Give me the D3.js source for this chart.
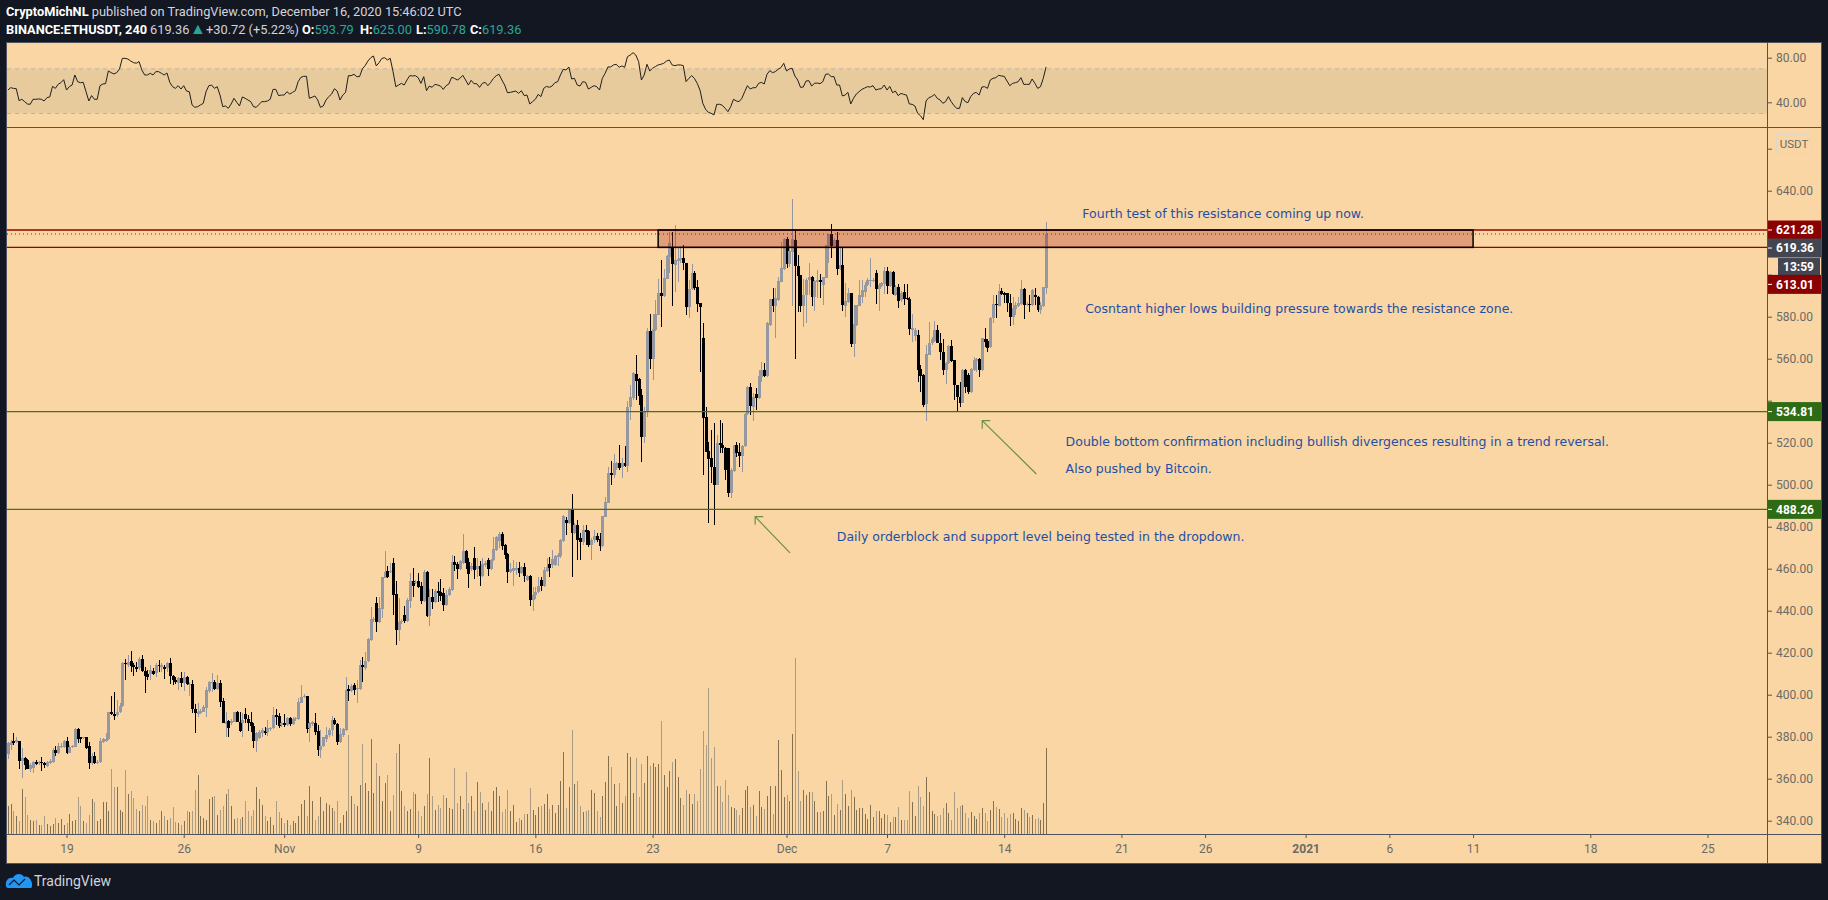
<!DOCTYPE html>
<html>
<head>
<meta charset="utf-8">
<title>ETHUSDT 240</title>
<script src="https://cdnjs.cloudflare.com/ajax/libs/d3/7.8.5/d3.min.js"></script>
<style>
html, body { margin: 0; padding: 0; background: #131722; overflow: hidden; }
svg { display: block; }
text { font-family: Roboto, sans-serif; }
</style>
</head>
<body>
<svg id="chart" width="1828" height="900"></svg>
<script>
"use strict";

// 4h candles, open high low close, oldest first
var ohlc = [
[371.7,377.6,369.2,376.8],[376,378.4,373.7,377.6],[378,381.6,376,376.8],[377.5,379.7,376.8,378.4],[378,378,364.5,368.4],[368.4,374.4,360.5,369.7],[369.7,370.5,364.1,366.5],[368.9,369.2,364.5,364.8],[364.8,367.3,363.3,366.5],[364.9,368.4,362.9,368],
[368,368.9,366.5,367],[367.3,368.4,366.5,367.8],[367.8,370.5,363.7,367.3],[367.6,368.1,364.9,366.4],[366.2,368.6,365.7,368.1],[367.3,369.2,366.8,368.6],[368.1,374.4,367.6,373.6],[373.6,375.6,370.8,372.1],[372.1,376.8,371.7,375.6],[375.2,376.8,374.4,375.7],
[375.2,378.4,374.4,378],[378,380,371.7,372.1],[372.4,376,372.1,375.2],[374.9,376,374.4,375.6],[375.2,384,374.9,383.7],[383.7,384.3,376.8,378.7],[379.7,380,376.8,379],[379.2,380,378.7,379.7],[379.8,380,374,374.4],[375.6,377.6,364.8,367.3],
[367.3,372.1,366.5,370.8],[370.8,372.9,367,367.3],[367.6,368.9,367,368.1],[368.1,379.2,367.3,378],[377.5,379.5,376.8,378.7],[378.1,381.6,377.5,379],[378.7,391.9,378.4,391.6],[391.6,399.4,390.3,390.6],[390.8,401.3,388,389.8],[390.2,397.5,389.5,391.9],
[391.6,396.2,391.1,394.8],[394.6,415.7,394.3,415.2],[415.2,416.8,407,414.4],[414.1,418.9,413.3,415.7],[415.9,420.8,411,413.6],[414.1,414.9,409,413],[413.3,415.7,411,412.1],[412.5,418.1,411.7,416.8],[417,418.9,411,411.4],[411.4,413,400.9,408.9],
[409.8,411.7,407,408.6],[409.7,414.1,407,411.7],[411.4,412.5,409.4,409.8],[410.2,414.9,408.2,414.1],[414.1,416.5,411,413.6],[413.3,414.9,411,414.1],[413.3,414.1,407.5,412.1],[412.5,415.7,411,415.2],[415.2,417.3,404.9,409],[409,409.4,404.6,407],
[407,408.6,405.1,406.2],[405.7,408.6,402.2,407.8],[407.8,411,403.8,405.7],[405.4,411,401.9,408.6],[408.6,409,404.6,405.1],[404.6,406.2,399.4,405.1],[405.1,407,391.1,393.3],[393.3,395.6,381.6,391.1],[390.6,396.2,389.5,391.9],[391.4,393,390.8,392.4],
[392,395,391.6,394.3],[393.8,403.8,389.5,402.2],[401.9,406.5,400.6,406.2],[405.4,410.2,401.4,406.2],[406.2,407,402.2,402.7],[402.7,409.4,402.2,405.4],[405.7,407,394.3,396.7],[397,398.3,386.4,386.7],[386,391.6,380,387.1],[387.5,388,380,384.3],
[386.3,388.2,385.6,387.6],[387.1,391.9,386.8,391.6],[392,392.4,386.8,387.1],[387.1,391.9,382.4,382.7],[386.3,391.1,380,387.9],[390.8,393.5,386.3,388.3],[388.4,390.3,382.9,386.7],[387.1,391.7,382.4,385.1],[385.1,386.4,374.8,378.1],[378.1,382.4,372.9,381.9],
[379.2,383.2,378.7,382.4],[381.6,384,380,383.2],[382.9,384.4,380.8,381.6],[382.4,387.9,380.3,384],[383.5,384.8,382.9,384],[384,394.3,383.5,390.3],[390.3,393,385.6,389.5],[389.8,391.1,384,385.1],[385.6,387.1,384.8,386.4],[386.4,390.8,384.4,385.6],
[385.6,389.2,385.1,388.9],[388.9,389.5,385.1,385.9],[386,389.2,385.6,388.6],[388.2,389.5,387.6,388.9],[388.6,398.2,388,396.3],[396.2,404.6,395.9,398.9],[398.7,400.3,398.3,399.4],[399.2,399.4,381.6,383.8],[384,387.1,377.6,386.7],[386,387.6,385.1,386.8],
[386.4,391.1,380.8,382.2],[382.5,385.6,370.8,373.6],[373.6,383.2,370,375.7],[375.6,380,374.9,379.7],[378.9,384.8,377.6,380.8],[380.8,384,380,383.2],[383.2,389.8,380.3,387.9],[388,388.7,385.6,385.9],[386,386.4,376,377.6],[377.3,384,376.8,381.3],
[380.8,384,380,383.5],[383.2,408.6,382.9,402.2],[402.5,404.6,397.1,401.9],[401.9,405.1,401.4,404.3],[404.6,405.4,399.8,402.2],[402.5,407,395.9,403],[402.7,416.5,402.2,414.1],[414.1,418.1,406.2,413],[412.5,420.2,411.7,416.2],[416.2,426.8,415.7,426.3],
[426,441.6,425.7,436],[435.5,437.1,434.7,436],[443.5,446.7,430,434.7],[434.7,446.3,434.3,441.1],[440.8,456.2,436.7,455.9],[455.7,468.4,455.4,458.6],[458.9,461.3,455.4,456.2],[458.6,462.5,457.8,459],[462.5,464.9,437.9,447.4],[447.8,454.1,423.6,430.8],
[430.8,445.9,425.5,434.7],[434.4,435.9,433.6,435.1],[437.9,442.2,434,435.1],[435.1,445.9,434.8,445.1],[444.8,457.8,441.1,454.1],[454.1,460.1,446.7,451.7],[453.3,454.6,452.7,453.8],[454.1,458,450.9,451.4],[451.7,453.8,443.2,444.6],[444.6,459.4,444.3,458.6],
[458.6,459,436.8,437.4],[437.4,450.1,432.8,446.7],[446.5,450.1,440.6,444.3],[444.3,450.1,443.8,449.5],[449.4,453.8,444.3,448.2],[448.9,455.1,444.8,447],[448.6,450.6,439.8,442.7],[442.7,449.8,442.2,447.4],[447.4,451.1,447,450.1],[449.8,466.5,449.5,463.2],
[463.2,466,459,461.7],[462.2,463.3,455.1,460],[460,464.1,459.4,463.6],[462.5,476.5,462.2,468.6],[468.6,468.9,459.8,462.5],[463.3,464.9,450.9,457.4],[459.7,462.5,459,461.3],[465.1,470.1,454.9,459.4],[459.7,464.9,456.2,461.3],[461.3,463.8,451.7,456.5],
[456.5,464.9,456.2,462.2],[461.6,463.6,460.9,462.8],[464.1,464.9,456.5,460],[460,464.4,459.4,464.1],[464.1,474.9,463.6,469.2],[468.9,475.5,468.6,475.2],[473.3,477.6,469.7,476.5],[476.3,477.6,468.9,470.9],[471.2,471.6,464.7,466.5],[467,467.6,453,458.2],
[458.2,462.5,457.8,459.8],[459,464.1,451.7,460.1],[459.4,463.3,457,460.5],[460.5,463.3,455.9,457.8],[458.1,461.3,457.4,460.6],[460.6,462.5,453.9,456.5],[454.6,457,454.1,456.5],[456.5,457,442.2,445.1],[445.1,451.4,440,447.4],[447.4,451.4,445.4,449],
[449,456.2,448.2,451.7],[454.6,456.2,449.4,451.7],[451.7,460.6,451.4,459.4],[459,464.9,458.6,460.6],[462.2,465.4,456.2,460.3],[461.6,468.9,460.1,464.4],[461.7,466.5,461.3,466],[465.4,467.3,461.3,466.5],[466,474,464.9,473.6],[473.3,485.5,472.8,485.1],
[483.2,484.7,476,481.6],[481.6,488.2,481.2,487.9],[487.9,495.5,456.2,477.1],[476.9,481.6,476.4,480.8],[480.8,483.2,464.2,473.7],[474.5,476.9,464.2,472.9],[472.9,480.8,471.3,478.5],[478.5,480.8,471.3,477.7],[478.1,478.5,470.5,471.3],[471.3,474.5,464.2,473.7],
[473.7,478.5,472.1,475.6],[475.6,476.9,472.9,473.7],[474,476.9,468.6,470.8],[470.8,485.3,470.5,485.1],[484.8,494.3,484.5,492],[491.5,508.6,491.2,505.4],[505.8,511.3,499.9,504.6],[504.6,514.6,503.1,510.2],[507.8,511,507,510.2],[510.2,518.9,507,507.8],
[508.6,512.6,503.1,510.2],[510.2,518.4,508.6,508.9],[508.9,540,506.2,537.2],[536.9,547.5,530.8,541.6],[541.1,553.8,540.4,553],[552.7,561.8,540.4,549.6],[550.2,550.7,538,542.3],[542.7,545.4,511,522.9],[522.9,537.2,519.7,534.8],[534.5,574.8,532.4,573.2],
[573.2,581.1,555.1,559.9],[559.9,581.1,549.9,574.2],[573.7,588,573.4,581.1],[580.8,597.8,580.8,591.1],[591.1,607,575.3,589.9],[589.9,602.6,589.6,598.3],[598,609.4,598,608.9],[608.6,620.5,600.7,614.9],[612.6,620.5,585.1,605.1],[604.6,623.7,591.9,607],
[606.5,612.6,596.7,607.5],[607,612.6,605.4,607.8],[607.8,614.2,602.3,605.4],[605.4,605.4,580.8,584.5],[584.8,597.5,579.4,593],[593,605.1,592.7,601],[601,601.9,592.7,593.8],[594,597.5,582.4,586],[586.4,586.4,553.8,584.8],[569.7,577.2,504.6,532],
[532.1,537.2,515.7,515.8],[516,520.5,482,512.3],[512.6,526.1,500.7,508.6],[508.3,529.3,480.8,499.9],[499.9,523.7,499.9,519.7],[519.7,530.8,515,518.9],[518.9,529.3,515,517.3],[517.7,518.1,502.3,507],[517.3,517.3,494.3,496.2],[496.2,507.8,493.5,507],
[506.6,518.9,506.2,518.9],[518.9,520.5,513.4,515],[515.8,519.7,508.6,513.7],[513.7,518.9,506.2,518.6],[518.5,534,518.1,533.7],[533.5,547,533.2,546.7],[546.4,548.3,533.2,537.5],[537.2,543.5,530.5,541.9],[543.2,545.9,535.6,541.1],[541.1,554.6,540.8,551.8],
[551.5,558.6,549.1,554.6],[554.6,557.8,551.5,551.8],[551.8,577.7,551.5,577.2],[576.1,588.3,575.8,588.3],[588.3,593.5,582.4,585.1],[585.1,593.5,570,588.8],[588,599.1,587.6,597],[596.7,615.7,596.7,603],[602.6,617.3,602.3,616.9],[616.9,618.1,603.2,605.1],
[605.1,614.2,603.8,611.5],[611,636.1,585.1,616.9],[616.5,621.3,559.9,604.2],[604.2,609.4,582.4,599.4],[599.9,599.9,582.4,585.1],[585.1,597.8,575.3,590.4],[590.4,598.3,576.9,597.5],[597.5,605.4,590.4,598.8],[599.1,599.4,585.1,589.6],[589.6,597.5,582.9,597],
[596.7,602.3,588.8,597.5],[597.5,600.2,589.1,596.7],[595.1,599.1,585.6,598.8],[598.6,614.2,598.3,614.2],[613.8,619.4,605.4,619.4],[619.4,624.2,607.8,613.8],[613.8,617.3,613.4,616.5],[616.5,620.2,599.9,602.7],[602.7,612.6,602.3,604.6],[604.6,612.6,582.9,585.6],
[585.1,595.9,580,587.7],[587.2,593.5,586.4,591.1],[591.1,591.1,565.8,567],[567,585.6,561,576.5],[576.1,585.6,575.8,585.6],[585.1,597.5,585.1,590.4],[589.6,597.5,586.4,592.7],[592,596.7,589.6,595.1],[595.1,598.3,594.6,597.5],[597.2,607.8,594.3,597.5],
[597.2,598.3,596.5,597.5],[600.7,602.3,586.1,593.4],[593.4,595.9,582.9,595.1],[594.6,596.7,594,595.9],[595.6,603.8,590.8,601.8],[601.9,603.5,590.8,594.6],[594.6,601.9,594,601.1],[601.1,601.8,590.4,590.7],[590.4,595.1,589.9,594.3],[594.3,595.6,584,587.7],
[588,592.2,587.2,591.5],[591.8,595.6,585.6,588.3],[589.1,595.6,588,588.3],[588.3,589.2,571.3,574],[573.7,581.1,568.1,574.5],[571,574.5,568.5,573.7],[571.3,573.7,549.1,554.6],[555,557,544.3,552],[552.3,552.6,537.2,538],[538.5,566.5,530.5,562.1],
[561.8,577.3,561.8,567.7],[567.3,570.5,566.5,569.4],[568.6,578.1,568.1,573.7],[573.7,576.1,567.3,567.7],[567.7,572.1,559.4,563.4],[563.4,569.2,552.3,554.6],[554.6,558.6,548,558.1],[557.8,566.5,557.3,566.1],[566.1,568.9,558.6,559.1],[559.4,559.4,540.4,547.5],
[547.5,547.5,535.3,541.6],[541.9,549.1,537.2,539.1],[539.1,555,538.8,554.6],[554.6,555,543.5,546.4],[552.3,553,543,544.3],[544.3,555.4,543.9,555],[554.6,561,554.2,559.4],[559.1,560.5,553.9,560],[560,560.2,551.5,554.6],[554.6,569.7,554.3,569.7],
[569.2,574.5,565.8,568.1],[568.6,569.2,563.4,565.3],[565.8,580,565.3,579.6],[579.2,590.4,576.9,586.1],[586.1,590.4,579.2,585.6],[585.3,595.6,585.1,592.3],[592.3,593.5,590.4,590.8],[591.5,591.9,586.4,590.4],[591.1,591.5,582.4,586.7],[586.7,590.8,575.8,580],
[579.7,589.6,576.1,584],[583.7,587.2,580.8,585.6],[585.1,589.6,584.5,586.4],[586.1,597.5,585.6,593.2],[593.2,593.8,578.8,585.6],[585.7,587.2,585.1,586.1],[586.1,590.4,582.4,585.6],[585.6,593,585.1,592.7],[590.3,593.5,585.6,589.2],[589.6,589.9,582.4,583.2],
[583.2,587.2,581.1,585.6],[585.1,594.3,584.8,594.3],[593.79,625,590.78,619.36]
];

// volume per candle, in units of the volume pane
var volumes = [
28,30.3,23.3,17.7,12.7,45.3,36.7,19.3,14.3,12.7,13.7,9.3,9.3,17.7,10.3,7.7,10.3,16,11,15.3,9.3,11,20.3,12.7,14.3,36.7,27.7,13.3,11,19.3,35.3,31.7,12.7,15.3,31.7,31.7,22.7,65.3,46.7,47,24.3,21.7,64.3,40.3,42.7,36,25.3,23.3,29.3,27.7,38.3,14.3,12.7,11,14.3,23.3,17.7,14.3,16,27,12,11,9.3,12.7,22.7,22,22.7,44.3,59.3,18.3,16,14.3,35.3,37,37.7,19.3,24.3,28.3,40.3,45.3,28.3,15.3,16,15.3,17,33.3,23.3,17.7,24.3,46.7,35.3,29.3,17.7,12.7,17,9.3,32.7,21.7,16,11,14.3,9.3,12.7,11,17.7,30.3,34.3,18.3,48.3,33.3,14.3,17.7,36.7,23.3,31,29.3,26,23.3,33.3,11,19.3,23.3,99.3,37.7,30.3,27.7,49.3,90.3,51,42.7,95,41,71,57.7,33.3,51,59.3,22.7,39.3,81,90.3,43.3,27.7,22.7,25,42,40,22.7,17.7,28.3,40.3,76,37.7,24.3,29.3,26,39.3,36,26,25.3,66,31,37.7,25.3,62.3,31,37.7,23.3,52,41.7,31,24.3,31.7,22.7,43.3,47,37.7,
22.3,25.3,44.3,23.3,29.3,12.3,16.3,14.3,20.3,20.3,46.3,24.3,19.3,27.3,28.3,30.3,40.3,25.3,29.3,21.3,29.3,53.3,82.3,26.3,47.3,104.3,50.3,53.3,28.3,22.3,23.3,24.3,44.3,41.3,23.3,17.3,38.3,52.3,78.3,67.3,50.3,28.3,51.3,31.3,38.3,81.3,77.3,41.3,76.3,37.3,70.3,51.3,78.3,68.3,71.3,67.3,70.3,113.3,59.3,47.3,63.3,72.3,75.3,57.3,36.3,29.3,44.3,40.3,30.3,40.3,33.3,65.3,103.3,89.3,146.3,76.3,87.3,48.3,48.3,32.3,54.3,39.3,27.3,26.3,24.3,19.3,26.3,44.3,48.3,27.3,29.3,18.3,43.3,27.3,25.3,38.3,48.3,20.3,48.3,94.3,64.3,37.3,39.3,33.3,100.3,176.3,63.3,33.3,44.3,39.3,42.3,42.3,33.3,22.3,22.3,23.3,53.3,38.3,40.3,19.3,30.3,24.3,54.3,40.3,28.3,44.3,37.3,24.3,26.3,26.3,20.3,15.3,29.3,17.3,23.3,23.3,16.3,20.3,19.3,12.3,17.3,17.3,27.3,14.3,14.3,14.3,43.3,32.3,18.3,48.3,37.3,28.3,57.3,42.3,23.3,20.3,18.3,19.3,26.3,31.3,21.3,14.3,42.3,26.3,28.3,29.3,21.3,16.3,22.3,18.3,15.3,21.3,26.3,21.3,13.3,24.3,33.3,27.3,25.3,17.3,21.3,16.3,20.3,21.3,15.3,13.3,26.3,24.3,21.3,17.3,19.3,15.3,16.3,14.3,31.3,86.3
];

var rsi = [
51,53.1,52.5,52.2,41.5,42.7,40.6,38.5,38.2,42.7,42.7,43,42.7,41.2,44.2,44.8,54.3,52.5,56.1,57.6,60.3,51,54,55.5,64.5,58.5,57.6,57.9,49.5,41.2,46,42.7,42.7,54.9,56.4,56.7,68.1,66.6,65.4,66.6,69.9,79.4,79.4,78.8,77,75.6,75,76.5,69,64.5,64.5,66,64.5,67.5,67.5,66,64.5,66.3,57.9,54,52.5,54.9,51.9,54.9,50.1,49.5,37.6,35.5,36.1,37.6,39.1,49.5,54.9,55.5,52.5,54,46.5,36.1,36.7,34.6,38.5,43.6,40,36.7,44.8,43.6,42.1,40.6,36.1,35.5,38.2,40.6,40.6,41.2,42.7,51.6,51.6,46,46.5,46.5,49.5,47.4,48.9,50.4,58.5,62.4,63.3,63.3,43.6,44.5,45.7,42.1,35.5,36.7,42.1,45.1,47.4,52.2,50.1,42.1,46.5,48.9,63.9,63.9,65.1,63,63,69.9,
72.9,77,80,81.5,72.6,75.6,79.4,80,78,79.4,67.5,54,55.5,57,55.5,60,63.9,63.6,63.9,62.1,57,63,50.4,54.6,53.4,56.1,55.5,54.6,51.6,54.9,56.4,62.4,61.5,60,61.5,64.2,60,55.5,59.7,56.7,56.7,53.4,57,57.9,54.9,57.9,61.5,63.9,65.1,60,55.5,48.6,48.9,49.5,50.1,48,50.4,46,46.5,38.5,40.6,42.7,47.1,45.1,52.5,54.3,53.4,54.6,57.6,58.5,64.5,69.6,69,71.7,60.9,61.5,55.5,54.6,58.5,57.9,51.9,53.4,54.9,54,51,61.5,66,71.7,71.7,73.5,74.1,71.4,72.6,71.4,80.9,82.4,84.5,82.4,76.5,60,64.5,74.1,68.1,70.5,72,73.5,74.1,75,77,77.9,73.5,72.9,73.5,73.5,72.9,58.5,61.5,63.9,61.5,57,
51,39.1,33.7,31,30.1,28.6,38.2,38.2,37.3,34.6,31.6,36.1,42.7,41.2,40.6,43.6,49.5,54.9,51.9,53.1,53.1,57,57.9,56.4,65.1,68.4,66.6,67.5,69.6,71.1,75,68.1,69.9,70.5,63.6,60,53.4,53.7,59.1,59.4,54.6,57,57.3,56.7,58.5,65.1,65.4,63,63,55.5,55.5,45.7,46.5,48.9,38.5,43.6,47.4,49.5,51.6,52.8,54,53.7,54.9,51,51.9,52.2,55.5,51,54.3,48.6,50.1,46,48,47.1,46.5,38.5,38.2,36.7,30.1,28,24.4,41.2,44.2,45.1,47.1,43.6,42.1,39.1,40.6,45.1,40.6,37,34.6,34.6,44.2,40.6,39.7,45.1,48,48.9,46.5,53.7,54,52.5,60,61.5,62.1,64.2,63.6,63.3,59.1,54.9,57,57.6,58.5,62.1,56.1,56.1,56.1,60.9,57,52.5,54,61.5,71.7
];

var lastBar = new Date(Date.UTC(2020, 11, 16, 12));
var barMs = 4 * 3600 * 1000;

var priceTicks = [340, 360, 380, 400, 420, 440, 460, 480, 500, 520, 540, 560, 580, 600, 620, 640, 660];
// these sit behind the price labels, only their tick marks show
var coveredTicks = [540, 600, 620, 660];
var rsiTicks = [40, 80];
var rsiBand = [30, 70];

var dateTicks = [
	Date.UTC(2020, 9, 19), Date.UTC(2020, 9, 26), Date.UTC(2020, 10, 1), Date.UTC(2020, 10, 9),
	Date.UTC(2020, 10, 16), Date.UTC(2020, 10, 23), Date.UTC(2020, 11, 1), Date.UTC(2020, 11, 7),
	Date.UTC(2020, 11, 14), Date.UTC(2020, 11, 21), Date.UTC(2020, 11, 26), Date.UTC(2021, 0, 1),
	Date.UTC(2021, 0, 6), Date.UTC(2021, 0, 11), Date.UTC(2021, 0, 18), Date.UTC(2021, 0, 25)
].map(function(d) { return new Date(d); });
var dateLabels = ["19", "26", "Nov", "9", "16", "23", "Dec", "7", "14", "21", "26", "2021", "6", "11", "18", "25"];

var resistance = [613.01, 621.28];
var support = [488.26, 534.81];
var lastPrice = 619.36;
var countdown = "13:59";
var zoneDates = [new Date(Date.UTC(2020, 10, 23, 8)), new Date(Date.UTC(2021, 0, 11))];

var noteTexts = [
	"Fourth test of this resistance coming up now.",
	"Cosntant higher lows building pressure towards the resistance zone.",
	"Double bottom confirmation including bullish divergences resulting in a trend reversal.",
	"Also pushed by Bitcoin.",
	"Daily orderblock and support level being tested in the dropdown."
];
var noteDates = [Date.UTC(2020, 11, 18, 16), Date.UTC(2020, 11, 18, 20), Date.UTC(2020, 11, 17, 16), Date.UTC(2020, 11, 17, 16), Date.UTC(2020, 11, 4)];
var notePrices = [628.9, 583.8, 520.5, 507.5, 475.2];

// tail and head of each arrow, in date and price
var arrowDates = [[Date.UTC(2020, 11, 15, 22), Date.UTC(2020, 11, 12, 16, 30)], [Date.UTC(2020, 11, 1, 5), Date.UTC(2020, 10, 29, 3)]];
var arrowPrices = [[505.1, 530.5], [467.5, 484.8]];

var bg = "#f9d6a3", border = "#50535e", axisText = "#6c6a66";
var upColor = "#9598a1", downColor = "#000000";
var plotLeft = 7, plotRight = 1767, chartRight = 1821, paneTop = 43, paneSplit = 127, timeLine = 834, chartBottom = 863;

var svg = d3.select("#chart");

var x = d3.scaleUtc().domain([dateTicks[0], dateTicks[dateTicks.length - 1]]).range([66.5, 1707.5]);
var y = d3.scaleLinear().domain([340, 640]).range([820.7, 190.7]);
var yRsi = d3.scaleLinear().domain([40, 80]).range([102.3, 57.7]);
var yVol = d3.scaleLinear().domain([0, 176]).range([timeLine, timeLine - 176]);

function barTime(i) {
	return new Date(lastBar.getTime() - (ohlc.length - 1 - i) * barMs);
}

svg.append("rect").attr("x", 0).attr("y", 0).attr("width", 1828).attr("height", 900).attr("fill", "#131722");
svg.append("rect").attr("x", plotLeft).attr("y", paneTop).attr("width", chartRight - plotLeft).attr("height", chartBottom - paneTop).attr("fill", bg);

var defs = svg.append("defs");
defs.append("clipPath").attr("id", "mainClip").append("rect")
	.attr("x", plotLeft).attr("y", paneSplit + 1).attr("width", plotRight - plotLeft).attr("height", timeLine - paneSplit - 1);
defs.append("clipPath").attr("id", "rsiClip").append("rect")
	.attr("x", plotLeft).attr("y", paneTop).attr("width", plotRight - plotLeft).attr("height", paneSplit - paneTop);

/*
 * RSI pane
 */
var rsiG = svg.append("g").attr("clip-path", "url(#rsiClip)");
rsiG.append("rect")
	.attr("x", plotLeft).attr("width", plotRight - plotLeft)
	.attr("y", yRsi(rsiBand[1])).attr("height", yRsi(rsiBand[0]) - yRsi(rsiBand[1]))
	.attr("fill", "#e8cb9d");
rsiG.selectAll(".band").data(rsiBand).enter().append("line")
	.attr("x1", plotLeft).attr("x2", plotRight)
	.attr("y1", function(d) { return yRsi(d); }).attr("y2", function(d) { return yRsi(d); })
	.attr("stroke", "#b9b5ac").attr("stroke-dasharray", "4,4");
rsiG.append("path")
	.attr("d", d3.line()
		.x(function(d, i) { return x(barTime(i + ohlc.length - rsi.length)); })
		.y(function(d) { return yRsi(d); })(rsi))
	.attr("fill", "none").attr("stroke", "#1f1f1f").attr("stroke-width", 1);

/*
 * Main pane
 */
var main = svg.append("g").attr("clip-path", "url(#mainClip)");

main.selectAll(".vol").data(volumes).enter().append("rect")
	.attr("shape-rendering", "crispEdges")
	.attr("x", function(d, i) { return Math.round(x(barTime(i + ohlc.length - volumes.length))); })
	.attr("y", function(d) { return yVol(d); })
	.attr("width", 1)
	.attr("height", function(d) { return timeLine - yVol(d); })
	.attr("fill", function(d, i) {
		var c = ohlc[i + ohlc.length - volumes.length];
		return c[3] >= c[0] ? "#83704f" : "#ab9c85";
	});

var candle = main.selectAll(".candle").data(ohlc).enter().append("g").attr("shape-rendering", "crispEdges");
candle.append("rect")
	.attr("x", function(d, i) { return Math.round(x(barTime(i))); })
	.attr("width", 1)
	.attr("y", function(d) { return y(d[1]); })
	.attr("height", function(d) { return y(d[2]) - y(d[1]); })
	.attr("fill", function(d) { return d[3] >= d[0] ? upColor : downColor; });
candle.append("rect")
	.attr("x", function(d, i) { return Math.round(x(barTime(i))) - 1; })
	.attr("width", 3)
	.attr("y", function(d) { return y(Math.max(d[0], d[3])); })
	.attr("height", function(d) { return Math.max(1, Math.abs(y(d[0]) - y(d[3]))); })
	.attr("fill", function(d) { return d[3] >= d[0] ? upColor : downColor; });

// support and resistance levels
function levelLine(v, color) {
	main.append("line")
		.attr("x1", plotLeft).attr("x2", plotRight)
		.attr("y1", y(v)).attr("y2", y(v))
		.attr("stroke", color).attr("stroke-width", 1.3);
}
resistance.forEach(function(v) { levelLine(v, "#990000"); });
support.forEach(function(v) { levelLine(v, "#44701f"); });

main.append("line")
	.attr("x1", plotLeft).attr("x2", plotRight)
	.attr("y1", y(lastPrice)).attr("y2", y(lastPrice))
	.attr("stroke", "#3a3a3a").attr("stroke-dasharray", "1,3");

main.append("rect")
	.attr("x", x(zoneDates[0])).attr("width", x(zoneDates[1]) - x(zoneDates[0]))
	.attr("y", y(resistance[1])).attr("height", y(resistance[0]) - y(resistance[1]))
	.attr("fill", "#a6211b").attr("fill-opacity", 0.3)
	.attr("stroke", "#000").attr("stroke-width", 1.5);

// arrows
arrowDates.forEach(function(ds, k) {
	var x0 = x(new Date(ds[0])), y0 = y(arrowPrices[k][0]),
		x1 = x(new Date(ds[1])), y1 = y(arrowPrices[k][1]);
	main.append("path")
		.attr("d", "M" + x0 + "," + y0 + "L" + x1 + "," + y1 + "M" + (x1 + 8) + "," + y1 + "L" + x1 + "," + y1 + "L" + x1 + "," + (y1 + 8))
		.attr("fill", "none").attr("stroke", "#6f8f4a").attr("stroke-width", 1.2);
});

// notes
main.selectAll(".note").data(noteTexts).enter().append("text")
	.attr("x", function(d, i) { return x(new Date(noteDates[i])); })
	.attr("y", function(d, i) { return y(notePrices[i]); })
	.attr("dy", "0.35em")
	.attr("fill", "#1f4fa5")
	.style("font-family", "'DejaVu Sans', sans-serif")
	.style("font-size", "12.5px")
	.text(function(d) { return d; });

/*
 * Axes
 */
var priceAxis = svg.append("g").attr("transform", "translate(" + plotRight + ",0)")
	.call(d3.axisRight(y).tickValues(priceTicks)
		.tickFormat(function(d) { return coveredTicks.indexOf(d) >= 0 ? "" : d3.format(".2f")(d); })
		.tickSize(5).tickPadding(4));
var rsiAxis = svg.append("g").attr("transform", "translate(" + plotRight + ",0)")
	.call(d3.axisRight(yRsi).tickValues(rsiTicks).tickFormat(d3.format(".2f")).tickSize(5).tickPadding(4));
var timeAxis = svg.append("g").attr("transform", "translate(0," + timeLine + ")")
	.call(d3.axisBottom(x).tickValues(dateTicks).tickFormat(function(d, i) { return dateLabels[i]; }).tickSize(4).tickPadding(6));

[priceAxis, rsiAxis, timeAxis].forEach(function(a) {
	a.select(".domain").remove();
	a.selectAll("line").attr("stroke", border);
	a.selectAll("text").attr("fill", axisText).style("font-size", "12px").style("font-family", "Roboto, sans-serif");
});
timeAxis.selectAll("text").filter(function(d, i) { return dateLabels[i] === "2021"; }).style("font-weight", "bold");

// frame
function rule(x1, y1, x2, y2) {
	svg.append("line").attr("x1", x1).attr("y1", y1).attr("x2", x2).attr("y2", y2).attr("stroke", border).attr("stroke-width", 1);
}
rule(plotRight + 0.5, paneTop, plotRight + 0.5, chartBottom);
rule(plotLeft, paneSplit + 0.5, chartRight, paneSplit + 0.5);
rule(plotLeft, timeLine + 0.5, chartRight, timeLine + 0.5);
svg.append("rect").attr("x", plotLeft - 0.5).attr("y", paneTop - 0.5)
	.attr("width", chartRight - plotLeft + 1).attr("height", chartBottom - paneTop + 1)
	.attr("fill", "none").attr("stroke", border);

// price labels on the axis, shift moves a label clear of its neighbours
function priceLabel(v, color, shift) {
	var g = svg.append("g").attr("transform", "translate(" + plotRight + "," + (y(v) + shift) + ")");
	g.append("rect").attr("x", 1).attr("y", -9.5).attr("width", 53).attr("height", 19).attr("fill", color);
	g.append("line").attr("x1", 1).attr("x2", 5).attr("stroke", "#fff");
	g.append("text").attr("x", 9).attr("dy", "0.35em").attr("fill", "#fff")
		.style("font-size", "12px").style("font-weight", "bold").text(d3.format(".2f")(v));
}
priceLabel(resistance[1], "#8b0000", 0);
support.forEach(function(v) { priceLabel(v, "#2e6b14", 0); });
priceLabel(lastPrice, "#434651", 14);
svg.append("rect").attr("x", plotRight + 11).attr("y", y(lastPrice) + 24).attr("width", 42).attr("height", 18).attr("fill", "#434651");
svg.append("text").attr("x", plotRight + 16).attr("y", y(lastPrice) + 33).attr("dy", "0.35em").attr("fill", "#fff")
	.style("font-size", "12px").style("font-weight", "bold").text(countdown);
priceLabel(resistance[0], "#8b0000", 37);

// currency button
svg.append("rect").attr("x", 1776.5).attr("y", 134.5).attr("width", 35).attr("height", 19).attr("rx", 3)
	.attr("fill", bg).attr("stroke", "#dcd8cf");
svg.append("text").attr("x", 1794).attr("y", 144).attr("dy", "0.35em").attr("text-anchor", "middle")
	.attr("fill", axisText).style("font-size", "11.5px").text("USDT");

/*
 * Header and footer
 */
var head1 = svg.append("text").attr("x", 6).attr("y", 16).attr("fill", "#d1d4dc").style("font-size", "12.8px");
head1.append("tspan").attr("fill", "#fff").style("font-weight", "bold").text("CryptoMichNL");
head1.append("tspan").text(" published on TradingView.com, December 16, 2020 15:46:02 UTC");

var head2 = svg.append("text").attr("y", 34).attr("fill", "#d1d4dc").style("font-size", "12.8px");
head2.append("tspan").attr("x", 6).attr("fill", "#fff").style("font-weight", "bold").text("BINANCE:ETHUSDT, 240");
head2.append("tspan").attr("x", 150).text("619.36");
head2.append("tspan").attr("x", 190).attr("fill", "#26a69a").style("font-size", "16px").text("▲");
head2.append("tspan").attr("x", 206).text("+30.72 (+5.22%)");
[["O:", "593.79", 302], ["H:", "625.00", 360], ["L:", "590.78", 416], ["C:", "619.36", 470]].forEach(function(p) {
	head2.append("tspan").attr("x", p[2]).attr("fill", "#fff").style("font-weight", "bold").text(p[0]);
	head2.append("tspan").attr("fill", "#26a69a").text(p[1]);
});

svg.append("path")
	.attr("d", "M6,886C5,880 9,877 13,878C15,873 22,873 24,877C28,875 33,881 32,886C32,888 31,888 30,888L8,888C7,888 6,887 6,886Z")
	.attr("fill", "#2196f3");
svg.append("path")
	.attr("d", "M9,885L14,880L19,885L25,879")
	.attr("fill", "none").attr("stroke", "#131722").attr("stroke-width", 1.2);
svg.append("text").attr("x", 34).attr("y", 886).attr("fill", "#d1d4dc").style("font-size", "14px").text("TradingView");
</script>
</body>
</html>
